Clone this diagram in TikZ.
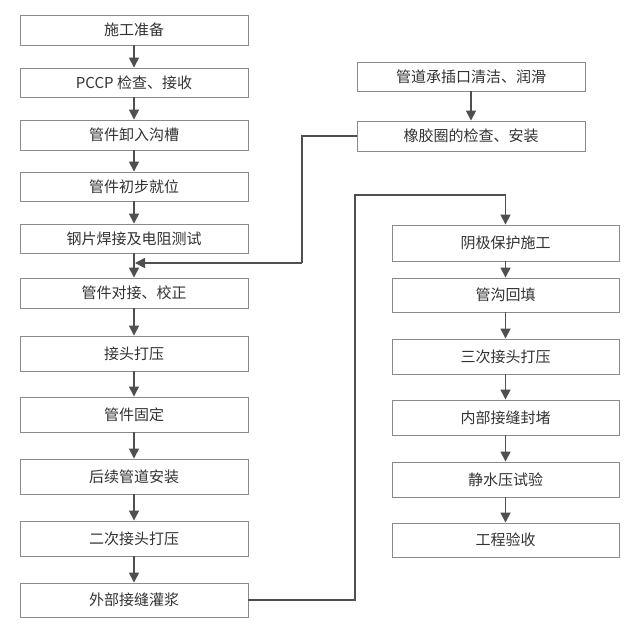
\documentclass[tikz,border=0pt]{standalone}
\usepackage{fontspec}
\newfontfamily\cjk{Noto Sans CJK SC}
\usetikzlibrary{arrows.meta}
\definecolor{boxline}{HTML}{8A8A8A}
\definecolor{flowline}{HTML}{4F4F4F}
\definecolor{ink}{HTML}{333333}

\begin{document}
\begin{tikzpicture}[x=1pt,y=-1pt,
stage/.style={draw=boxline, line width=0.9pt, fill=white, text=ink, inner sep=0pt,
  font=\cjk\fontsize{15}{18}\selectfont, minimum width=228pt},
flow/.style={draw=flowline, line width=1.5pt, -{Triangle[length=10pt,width=10pt]}},
link/.style={draw=flowline, line width=1.5pt}
]
  \useasboundingbox[fill=white] (0,0) rectangle (644,636);

  \node[stage, minimum height=30pt] (s1) at (134,30) {施工准备};
  \node[stage, minimum height=29pt] (s2) at (134,82.5) {PCCP 检查、接收};
  \node[stage, minimum height=30pt] (s3) at (134,135) {管件卸入沟槽};
  \node[stage, minimum height=29pt] (s4) at (134,186.5) {管件初步就位};
  \node[stage, minimum height=29pt] (s5) at (134,238.5) {钢片焊接及电阻测试};
  \node[stage, minimum height=30pt] (s6) at (134,293) {管件对接、校正};
  \node[stage, minimum height=35pt] (s7) at (134,353.5) {接头打压};
  \node[stage, minimum height=35pt] (s8) at (134,414.5) {管件固定};
  \node[stage, minimum height=35pt] (s9) at (134,476.5) {后续管道安装};
  \node[stage, minimum height=35pt] (s10) at (134,538.5) {二次接头打压};
  \node[stage, minimum height=34pt] (s11) at (134,600) {外部接缝灌浆};

  \node[stage, minimum height=29pt] (r1) at (471,76.5) {管道承插口清洁、润滑};
  \node[stage, minimum height=30pt] (r2) at (471,136) {橡胶圈的检查、安装};

  \node[stage, minimum height=36pt, minimum width=227pt] (p1) at (505.5,243) {阴极保护施工};
  \node[stage, minimum height=34pt, minimum width=227pt] (p2) at (505.5,295) {管沟回填};
  \node[stage, minimum height=35pt, minimum width=227pt] (p3) at (505.5,356.5) {三次接头打压};
  \node[stage, minimum height=35pt, minimum width=227pt] (p4) at (505.5,417.5) {内部接缝封堵};
  \node[stage, minimum height=35pt, minimum width=227pt] (p5) at (505.5,479.5) {静水压试验};
  \node[stage, minimum height=34pt, minimum width=227pt] (p6) at (505.5,540) {工程验收};

  \coordinate (join) at (134,263);
  \coordinate (bendA) at (302,263);
  \coordinate (bendB) at (355,195);

  \draw[flow] (s1) -- (s2);
  \draw[flow] (s2) -- (s3);
  \draw[flow] (s3) -- (s4);
  \draw[flow] (s4) -- (s5);
  \draw[flow] (s5) -- (s6);
  \draw[flow] (s6) -- (s7);
  \draw[flow] (s7) -- (s8);
  \draw[flow] (s8) -- (s9);
  \draw[flow] (s9) -- (s10);
  \draw[flow] (s10) -- (s11);

  \draw[flow] (r1) -- (r2);
  \draw[link] (r2.west) -| (bendA);
  \draw[flow] (bendA) -- ([xshift=1pt]join);

  \draw[flow] (s11.east) -| (bendB) -| (p1.north);
  \draw[flow] (p1) -- (p2);
  \draw[flow] (p2) -- (p3);
  \draw[flow] (p3) -- (p4);
  \draw[flow] (p4) -- (p5);
  \draw[flow] (p5) -- (p6);
\end{tikzpicture}
\end{document}
